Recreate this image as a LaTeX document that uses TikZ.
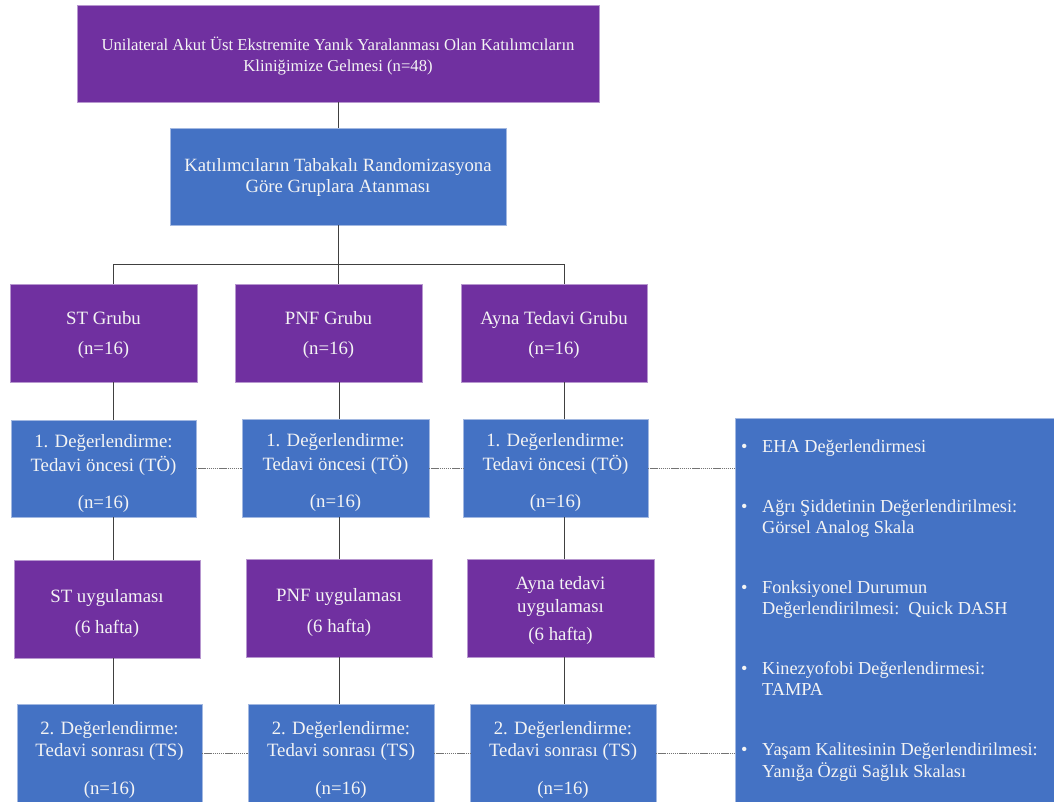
\documentclass[tikz,border=0pt]{standalone}
\usepackage{fontspec}
\setmainfont{Liberation Serif}
\usetikzlibrary{calc}
\definecolor{pur}{HTML}{7030A0}
\definecolor{blu}{HTML}{4472C4}
\definecolor{txt}{HTML}{F4F4F4}
\begin{document}
\begin{tikzpicture}[x=1pt,y=-1pt,
  box/.style={rectangle, inner sep=0pt, outer sep=0pt},
  pbox/.style={box, fill=pur, draw=pur!50!white, line width=0.6pt},
  bbox/.style={box, fill=blu, draw=blu!50!white, line width=0.6pt},
  lbl/.style={inner sep=0pt, text=txt, align=center, font=\fontsize{18.8}{24}\selectfont},
  conn/.style={draw=black!75, line width=0.9pt},
  dconn/.style={draw=black!55, line width=0.9pt, dash pattern=on 1.4pt off 0.7pt}]
\useasboundingbox (0,0) rectangle (1054,801);
\fill[white] (0,0) rectangle (1054,801);
\clip (0,0) rectangle (1054,801);

% top row
\node[pbox, minimum width=522pt, minimum height=97pt] (top) at (338,53.5) {};
\node[lbl, font=\fontsize{16.7}{21}\selectfont, yshift=-3pt] (topt) at (top.center)
  {Unilateral Akut Üst Ekstremite Yanık Yaralanması Olan Katılımcıların\\Kliniğimize Gelmesi (n=48)};
\node[bbox, minimum width=336pt, minimum height=97pt] (rand) at (338,176.5) {};
\node[lbl, font=\fontsize{18.7}{21}\selectfont, yshift=-1pt] (randt) at (rand.center)
  {Katılımcıların Tabakalı Randomizasyona\\Göre Gruplara Atanması};

% groups
\node[pbox, minimum width=187pt, minimum height=98pt] (g1) at (103.5,333) {};
\node[pbox, minimum width=187pt, minimum height=98pt] (g2) at (328.5,333) {};
\node[pbox, minimum width=186pt, minimum height=98pt] (g3) at (554,333) {};
\node[lbl, yshift=-1.5pt] (g1t) at (g1.center) {ST Grubu\\[6pt](n=16)};
\node[lbl, yshift=-1.5pt] (g2t) at (g2.center) {PNF Grubu\\[6pt](n=16)};
\node[lbl, yshift=-1.5pt] (g3t) at (g3.center) {Ayna Tedavi Grubu\\[6pt](n=16)};

% first evaluation
\node[bbox, minimum width=185pt, minimum height=97pt] (e1a) at (103.5,468.5) {};
\node[bbox, minimum width=187pt, minimum height=98pt] (e1b) at (335.5,468) {};
\node[bbox, minimum width=185pt, minimum height=98pt] (e1c) at (555.5,468) {};
\node[lbl, yshift=-4.5pt] (e1at) at (e1a.center) {1. Değerlendirme:\\Tedavi öncesi (TÖ)\\[13pt](n=16)};
\node[lbl, yshift=-4.5pt] (e1bt) at (e1b.center) {1. Değerlendirme:\\Tedavi öncesi (TÖ)\\[13pt](n=16)};
\node[lbl, yshift=-4.5pt] (e1ct) at (e1c.center) {1. Değerlendirme:\\Tedavi öncesi (TÖ)\\[13pt](n=16)};

% interventions
\node[pbox, minimum width=186pt, minimum height=98pt] (i1) at (107,609) {};
\node[pbox, minimum width=186pt, minimum height=98pt] (i2) at (339,608) {};
\node[pbox, minimum width=187pt, minimum height=98pt] (i3) at (560.5,608) {};
\node[lbl, yshift=-4pt] (i1t) at (i1.center) {ST uygulaması\\[7pt](6 hafta)};
\node[lbl, yshift=-4pt] (i2t) at (i2.center) {PNF uygulaması\\[7pt](6 hafta)};
\node[lbl, yshift=-2.5pt] (i3t) at (i3.center) {Ayna tedavi\\[-1pt]uygulaması\\[4pt](6 hafta)};

% second evaluation
\node[bbox, minimum width=185pt, minimum height=106pt] (e2a) at (109.5,757) {};
\node[bbox, minimum width=186pt, minimum height=106pt] (e2b) at (341,757) {};
\node[bbox, minimum width=186pt, minimum height=106pt] (e2c) at (563,757) {};
\node[lbl, yshift=-2.5pt] (e2at) at (e2a.center) {2. Değerlendirme:\\[-2pt]Tedavi sonrası (TS)\\[14pt](n=16)};
\node[lbl, yshift=-2.5pt] (e2bt) at (e2b.center) {2. Değerlendirme:\\[-2pt]Tedavi sonrası (TS)\\[14pt](n=16)};
\node[lbl, yshift=-2.5pt] (e2ct) at (e2c.center) {2. Değerlendirme:\\[-2pt]Tedavi sonrası (TS)\\[14pt](n=16)};

% measurement panel
\node[bbox, minimum width=321pt, minimum height=394pt] (panel) at (895.5,615) {};
\node[anchor=north west, inner sep=0pt, text=txt, align=left, font=\fontsize{18.3}{21}\selectfont] (list) at (741,438)
  {\begin{tabular}{@{}l@{\hspace{14.5pt}}l@{}}
   \textbullet & EHA Değerlendirmesi\\[39pt]
   \textbullet & Ağrı Şiddetinin Değerlendirilmesi:\\
               & Görsel Analog Skala\\[39pt]
   \textbullet & Fonksiyonel Durumun\\
               & Değerlendirilmesi:\ \ Quick DASH\\[39pt]
   \textbullet & Kinezyofobi Değerlendirmesi:\\
               & TAMPA\\[39pt]
   \textbullet & Yaşam Kalitesinin Değerlendirilmesi:\\
               & Yanığa Özgü Sağlık Skalası
   \end{tabular}};

% column guides
\coordinate (cA) at (113,0);
\coordinate (cB) at (339,0);
\coordinate (cC) at (564,0);
\coordinate (bus) at (338,264);
\coordinate (row1) at (0,468);
\coordinate (row2) at (0,753);

% tree connectors
\draw[conn] (top.south) -- (rand.north);
\draw[conn] (rand.south) -- (bus);
\draw[conn] (bus -| cA) -- (bus -| cC);
\draw[conn] (bus -| cA) -- (g1.north -| cA);
\draw[conn] (bus) -- (g2.north -| bus);
\draw[conn] (bus -| cC) -- (g3.north -| cC);

\foreach \g/\e/\i/\f/\c in {g1/e1a/i1/e2a/cA, g2/e1b/i2/e2b/cB, g3/e1c/i3/e2c/cC}{
  \draw[conn] (\g.south -| \c) -- (\e.north -| \c);
  \draw[conn] (\e.south -| \c) -- (\i.north -| \c);
  \draw[conn] (\i.south -| \c) -- (\f.north -| \c);
}

% dashed links
\draw[dconn] (e1a.east |- row1) -- (e1b.west |- row1);
\draw[dconn] (e1b.east |- row1) -- (e1c.west |- row1);
\draw[dconn] (e1c.east |- row1) -- (panel.west |- row1);
\draw[dconn] (e2a.east |- row2) -- (e2b.west |- row2);
\draw[dconn] (e2b.east |- row2) -- (e2c.west |- row2);
\draw[dconn] (e2c.east |- row2) -- (panel.west |- row2);
\end{tikzpicture}
\end{document}
